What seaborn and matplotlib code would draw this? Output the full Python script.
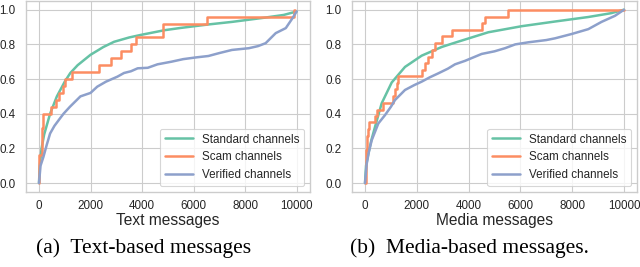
import matplotlib
matplotlib.use("Agg")
import matplotlib.pyplot as plt
import seaborn as sns
import pandas as pd

# ---- data: (a) text-based messages ----
text_std_x = [0, 30, 100, 200, 431, 694, 1000, 1216, 1500, 2000, 2500, 2914, 3500, 3961, 4876, 5500, 6575, 7500, 8797, 9500, 10000]
text_std_y = [0, 0.10, 0.20, 0.28, 0.40, 0.50, 0.585, 0.635, 0.68, 0.74, 0.785, 0.815, 0.84, 0.855, 0.882, 0.895, 0.915, 0.93, 0.955, 0.97, 0.99]

text_scam_x = [0, 5, 105, 170, 455, 660, 790, 950, 1010, 1280, 2325, 2784, 3176, 3569, 3760, 4827, 6513, 9880, 9950]
text_scam_y = [0, 0.16, 0.32, 0.40, 0.44, 0.48, 0.52, 0.56, 0.60, 0.64, 0.68, 0.72, 0.76, 0.80, 0.84, 0.92, 0.96, 1.0, 1.0]

text_ver_x = [0, 60, 170, 300, 431, 600, 800, 953, 1200, 1608, 2000, 2261, 2600, 3046, 3300, 3569, 3830, 4222, 4600, 5137, 5600, 6100, 6575, 7000, 7490, 8145, 8500, 8797, 9189, 9580, 9843, 10000]
text_ver_y = [0, 0.10, 0.15, 0.22, 0.286, 0.33, 0.37, 0.40, 0.44, 0.50, 0.52, 0.556, 0.585, 0.614, 0.635, 0.645, 0.662, 0.665, 0.685, 0.70, 0.715, 0.725, 0.733, 0.75, 0.768, 0.778, 0.79, 0.807, 0.865, 0.894, 0.952, 0.99]

# ---- data: (b) media-based messages ----
media_std_x = [0, 40, 129, 250, 386, 643, 1030, 1544, 2188, 2961, 3475, 3861, 4761, 6050, 7336, 8622, 9500, 10000]
media_std_y = [0, 0.10, 0.17, 0.25, 0.324, 0.46, 0.58, 0.67, 0.735, 0.785, 0.81, 0.828, 0.87, 0.905, 0.932, 0.958, 0.98, 1.0]

media_scam_x = [0, 20, 60, 130, 160, 380, 451, 707, 1080, 1158, 1220, 1287, 2188, 2300, 2450, 2575, 2703, 2961, 3347, 4506, 4650, 5533, 10000]
media_scam_y = [0, 0.19, 0.27, 0.31, 0.35, 0.385, 0.42, 0.46, 0.50, 0.54, 0.58, 0.615, 0.655, 0.69, 0.73, 0.77, 0.81, 0.85, 0.885, 0.925, 0.96, 1.0, 1.0]

media_ver_x = [0, 64, 150, 258, 515, 772, 1000, 1158, 1544, 1900, 2188, 2500, 2830, 3200, 3475, 3861, 4506, 5000, 5405, 5800, 6305, 7000, 7336, 7980, 8622, 9135, 9653, 10000]
media_ver_y = [0, 0.11, 0.18, 0.247, 0.344, 0.392, 0.44, 0.479, 0.537, 0.565, 0.585, 0.61, 0.633, 0.66, 0.685, 0.705, 0.745, 0.76, 0.778, 0.80, 0.812, 0.825, 0.835, 0.86, 0.888, 0.93, 0.965, 1.0]

series_names = ["Standard channels", "Scam channels", "Verified channels"]
xlabels = ["Text messages", "Media messages"]
captions = ["(a)  Text-based messages", "(b)  Media-based messages."]
xticks = [0, 2000, 4000, 6000, 8000, 10000]
yticks = [0.0, 0.2, 0.4, 0.6, 0.8, 1.0]

sns.set_theme(style="whitegrid", context="paper")
plt.rcParams["font.family"] = ["Liberation Sans", "DejaVu Sans"]
palette = sns.color_palette("Set2", 3)

fig = plt.figure(figsize=(6.4, 2.67), dpi=100)
ax1 = fig.add_axes([0.0402, 0.282, 0.444, 0.714])
ax2 = fig.add_axes([0.5495, 0.282, 0.4463, 0.714])

panels = [
    (ax1, [(text_std_x, text_std_y), (text_scam_x, text_scam_y), (text_ver_x, text_ver_y)]),
    (ax2, [(media_std_x, media_std_y), (media_scam_x, media_scam_y), (media_ver_x, media_ver_y)]),
]

for i, (ax, data) in enumerate(panels):
    for j, ((xs, ys), name) in enumerate(zip(data, series_names)):
        df = pd.DataFrame({"x": xs, "y": ys})
        kw = {"drawstyle": "steps-post"} if j == 1 else {}
        sns.lineplot(data=df, x="x", y="y", ax=ax, color=palette[j], label=name,
                     estimator=None, sort=False, linewidth=1.8, **kw)
    ax.set_xlim(-515, 10515)
    ax.set_ylim(-0.05, 1.05)
    ax.set_xticks(xticks)
    ax.set_yticks(yticks)
    ax.set_xticklabels([str(t) for t in xticks])
    ax.set_yticklabels([f"{t:.1f}" for t in yticks])
    ax.tick_params(axis="x", length=0, pad=6.3, labelsize=8.4, colors="#262626")
    ax.tick_params(axis="y", length=0, pad=7.2, labelsize=8.4, colors="#262626")
    ax.set_xlabel(xlabels[i], fontsize=11.2, labelpad=0.5, color="#262626")
    ax.set_ylabel("")
    for s in ax.spines.values():
        s.set_color("#cccccc")
    leg = ax.legend(loc="lower right", fontsize=8.4, handlelength=2.4,
                    frameon=True, borderaxespad=0.5, labelspacing=0.5)
    for t in leg.get_texts():
        t.set_color("#262626")

fig.text(0.225, 0.071, captions[0], ha="center", va="center",
         family="Liberation Serif", fontsize=15.5, color="black")
fig.text(0.734, 0.071, captions[1], ha="center", va="center",
         family="Liberation Serif", fontsize=15.5, color="black")

fig.savefig("out.png", dpi=100)
